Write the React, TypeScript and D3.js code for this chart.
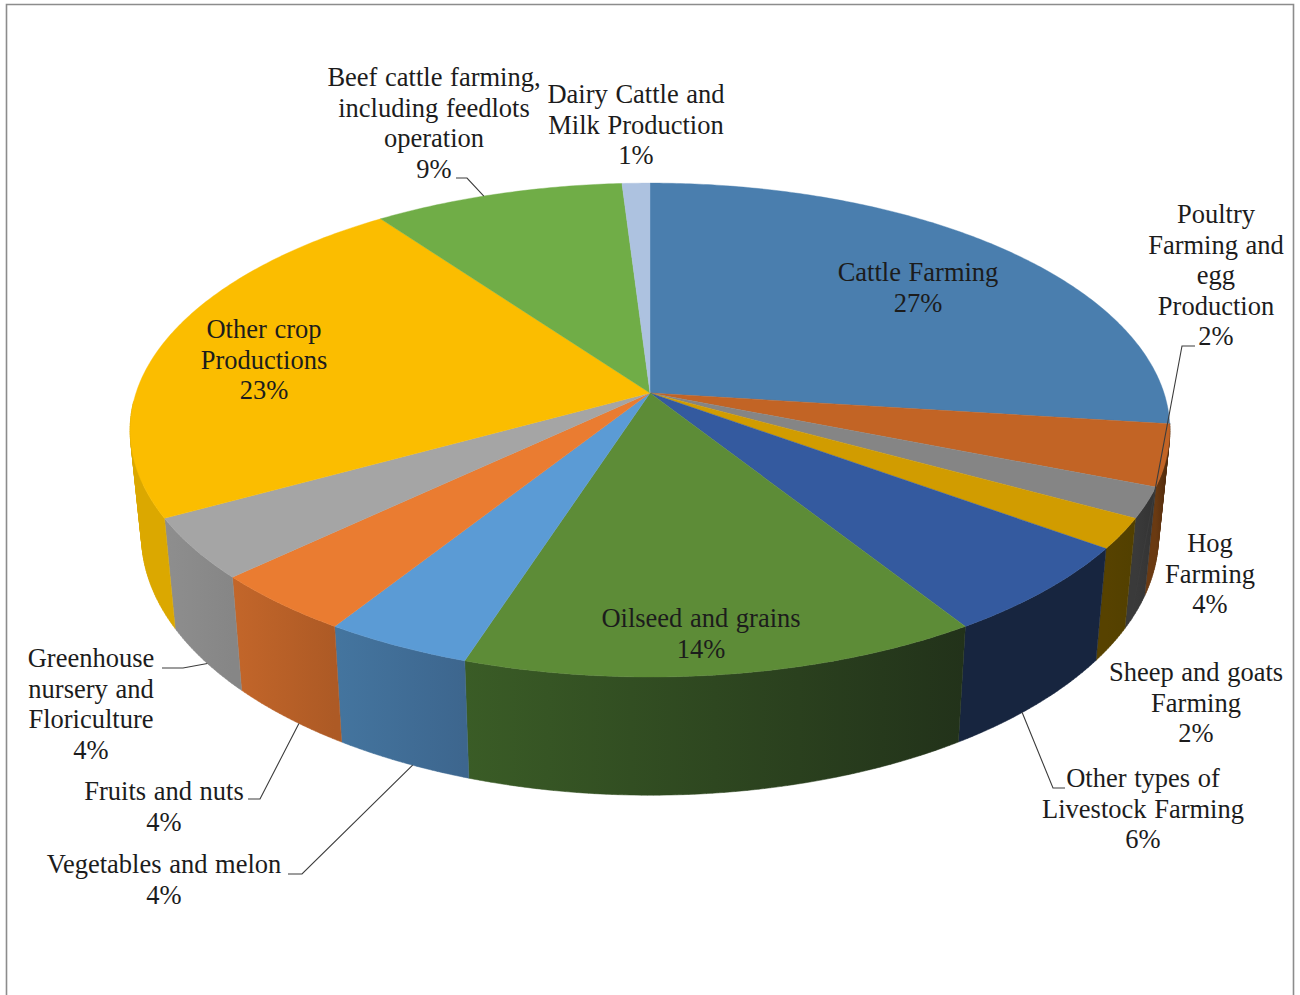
import React from "react";
import * as d3 from "d3";

// Farm-type shares, in drawing order clockwise from twelve o'clock.
const categories = [
  ["Cattle Farming"],
  ["Hog", "Farming"],
  ["Poultry", "Farming and", "egg", "Production"],
  ["Sheep and goats", "Farming"],
  ["Other types of", "Livestock Farming"],
  ["Oilseed and grains"],
  ["Vegetables and melon"],
  ["Fruits and nuts"],
  ["Greenhouse", "nursery and", "Floriculture"],
  ["Other crop", "Productions"],
  ["Beef cattle farming,", "including feedlots", "operation"],
  ["Dairy Cattle and", "Milk Production"],
];
const shares = [27, 4, 2, 2, 6, 14, 4, 4, 4, 23, 9, 1];

// Face colours and the darker left/right tones of each slice's rim.
const topColours = ["#4a7eae", "#c26425", "#858585", "#d19c00", "#345a9f", "#5d8c37", "#5b9bd5", "#ea7c31", "#a5a5a5", "#fbbd00", "#70ad47", "#adc2e0"];
const rimLeft = ["#3d668e", "#6a3a12", "#3a3a3a", "#574200", "#17253f", "#3a5c26", "#44759f", "#c3662a", "#8e8e8e", "#dba800", "#70ad47", "#adc2e0"];
const rimRight = ["#3d668e", "#4a270b", "#333333", "#524000", "#17253f", "#22321a", "#3d668e", "#ad5a25", "#868686", "#dba800", "#70ad47", "#adc2e0"];

// Label centre x and the vertical centre of the first line.
const labelX = [918, 1210, 1216, 1196, 1143, 701, 164, 164, 91, 264, 434, 636];
const labelY = [272, 543, 214, 672, 778, 618, 864, 791, 658, 329, 77, 94];
const lineStep = 30.5;

// Leader lines: where along the slice they attach, then elbow and end in page space.
const leaders = [
  { slice: 2, along: 0.75, ring: "bottom", elbow: [1182, 346], end: [1195, 346] },
  { slice: 4, along: 0.6, ring: "bottom", elbow: [1053, 788], end: [1065, 788] },
  { slice: 6, along: 0.42, ring: "bottom", elbow: [302, 874], end: [288, 874] },
  { slice: 7, along: 0.39, ring: "bottom", elbow: [260, 799], end: [248, 799] },
  { slice: 8, along: 0.45, ring: "bottom", elbow: [183, 668], end: [162, 668] },
  { slice: 10, along: 0.444, ring: "top", elbow: [467, 178], end: [456, 178] },
];

const CENTER_X = 650;
const CENTER_Y = 393;
const TILT = 0.15;
const RIM_CENTER_Y = 497;

const discX = d3.scaleLinear().domain([-1, 1]).range([CENTER_X - 514, CENTER_X + 514]);
const discY = d3.scaleLinear().domain([-1, 1]).range([CENTER_Y - 241.4, CENTER_Y + 241.4]);
const rimX = d3.scaleLinear().domain([CENTER_X - 100, CENTER_X + 100]).range([CENTER_X - 97.8, CENTER_X + 97.8]);
const rimY = d3.scaleLinear().domain([CENTER_Y - 100, CENTER_Y + 100]).range([RIM_CENTER_Y - 105, RIM_CENTER_Y + 105]);

type Pt = [number, number];

// Perspective projection of a point on the unit circle (angle clockwise from the top).
function topPoint(a: number): Pt {
  const u = Math.sin(a);
  const v = -Math.cos(a);
  const d = 1 - TILT * v;
  return [discX(u / d), discY(v / d)];
}
function bottomPoint(a: number): Pt {
  const [x, y] = topPoint(a);
  return [rimX(x), rimY(y)];
}
function samples(a0: number, a1: number): number[] {
  const n = Math.max(2, Math.ceil((a1 - a0) / 0.01));
  return d3.range(n + 1).map((i) => a0 + ((a1 - a0) * i) / n);
}

const outline = d3.line<Pt>();
const arcs = d3.pie<number>().sort(null).value((d) => d)(shares);

const RIM_FROM = (97 * Math.PI) / 180;
const RIM_TO = (268 * Math.PI) / 180;

// The wall is swept from one angle to the next; each strip is a convex hull so
// the silhouette stays filled where the two rings cross at the far sides.
function wallPath(a0: number, a1: number): string {
  const angles = samples(a0, a1);
  return d3
    .pairs(angles)
    .map(([p, q]) => {
      const hull = d3.polygonHull([topPoint(p), topPoint(q), bottomPoint(q), bottomPoint(p)]) as Pt[];
      return outline(hull) + "Z";
    })
    .join("");
}

export default function App() {
  return (
    <svg
      width={1300}
      height={995}
      viewBox="0 0 1300 995"
      style={{ position: "absolute", left: 0, top: 0, display: "block", background: "#fff", wordSpacing: "1px" }}
      fontFamily="'Liberation Serif', serif"
      fontSize={26.5}
    >
      <defs>
        {arcs.map((arc, i) => {
          const a0 = Math.max(arc.startAngle, RIM_FROM);
          const a1 = Math.min(arc.endAngle, RIM_TO);
          if (a1 <= a0) return null;
          return (
            <linearGradient
              key={i}
              id={`rim-${i}`}
              gradientUnits="userSpaceOnUse"
              x1={Math.min(topPoint(a0)[0], topPoint(a1)[0])}
              x2={Math.max(topPoint(a0)[0], topPoint(a1)[0])}
              y1={0}
              y2={0}
            >
              <stop offset="0" stopColor={rimLeft[i]} />
              <stop offset="1" stopColor={rimRight[i]} />
            </linearGradient>
          );
        })}
      </defs>

      <path d="M6.5,995V4.5H1293.5V995" fill="none" stroke="#8c8c8c" strokeWidth={1.6} />

      {/* Visible outer wall of the disc */}
      {arcs.map((arc, i) => {
        const a0 = Math.max(arc.startAngle, RIM_FROM);
        const a1 = Math.min(arc.endAngle, RIM_TO);
        if (a1 <= a0) return null;
        return <path key={i} d={wallPath(a0, a1)} fill={`url(#rim-${i})`} stroke={`url(#rim-${i})`} strokeWidth={0.5} />;
      })}

      {/* Top face */}
      {arcs.map((arc, i) => {
        const pts: Pt[] = [[CENTER_X, CENTER_Y], ...samples(arc.startAngle, arc.endAngle).map(topPoint)];
        return <path key={i} d={outline(pts) + "Z"} fill={topColours[i]} stroke={topColours[i]} strokeWidth={0.4} />;
      })}

      {/* Leader lines */}
      {leaders.map((l) => {
        const arc = arcs[l.slice];
        const a = arc.startAngle + (arc.endAngle - arc.startAngle) * l.along;
        const start = l.ring === "top" ? topPoint(a) : bottomPoint(a);
        return (
          <path
            key={l.slice}
            d={outline([start, l.elbow as Pt, l.end as Pt]) as string}
            fill="none"
            stroke="#3c3c3c"
            strokeWidth={1.1}
          />
        );
      })}

      {/* Labels */}
      {categories.map((lines, i) => (
        <text key={i} textAnchor="middle" fill="#1c1c1c">
          {[...lines, `${shares[i]}%`].map((line, j) => (
            <tspan key={j} x={labelX[i]} y={labelY[i] + j * lineStep + 9}>
              {line}
            </tspan>
          ))}
        </text>
      ))}
    </svg>
  );
}
